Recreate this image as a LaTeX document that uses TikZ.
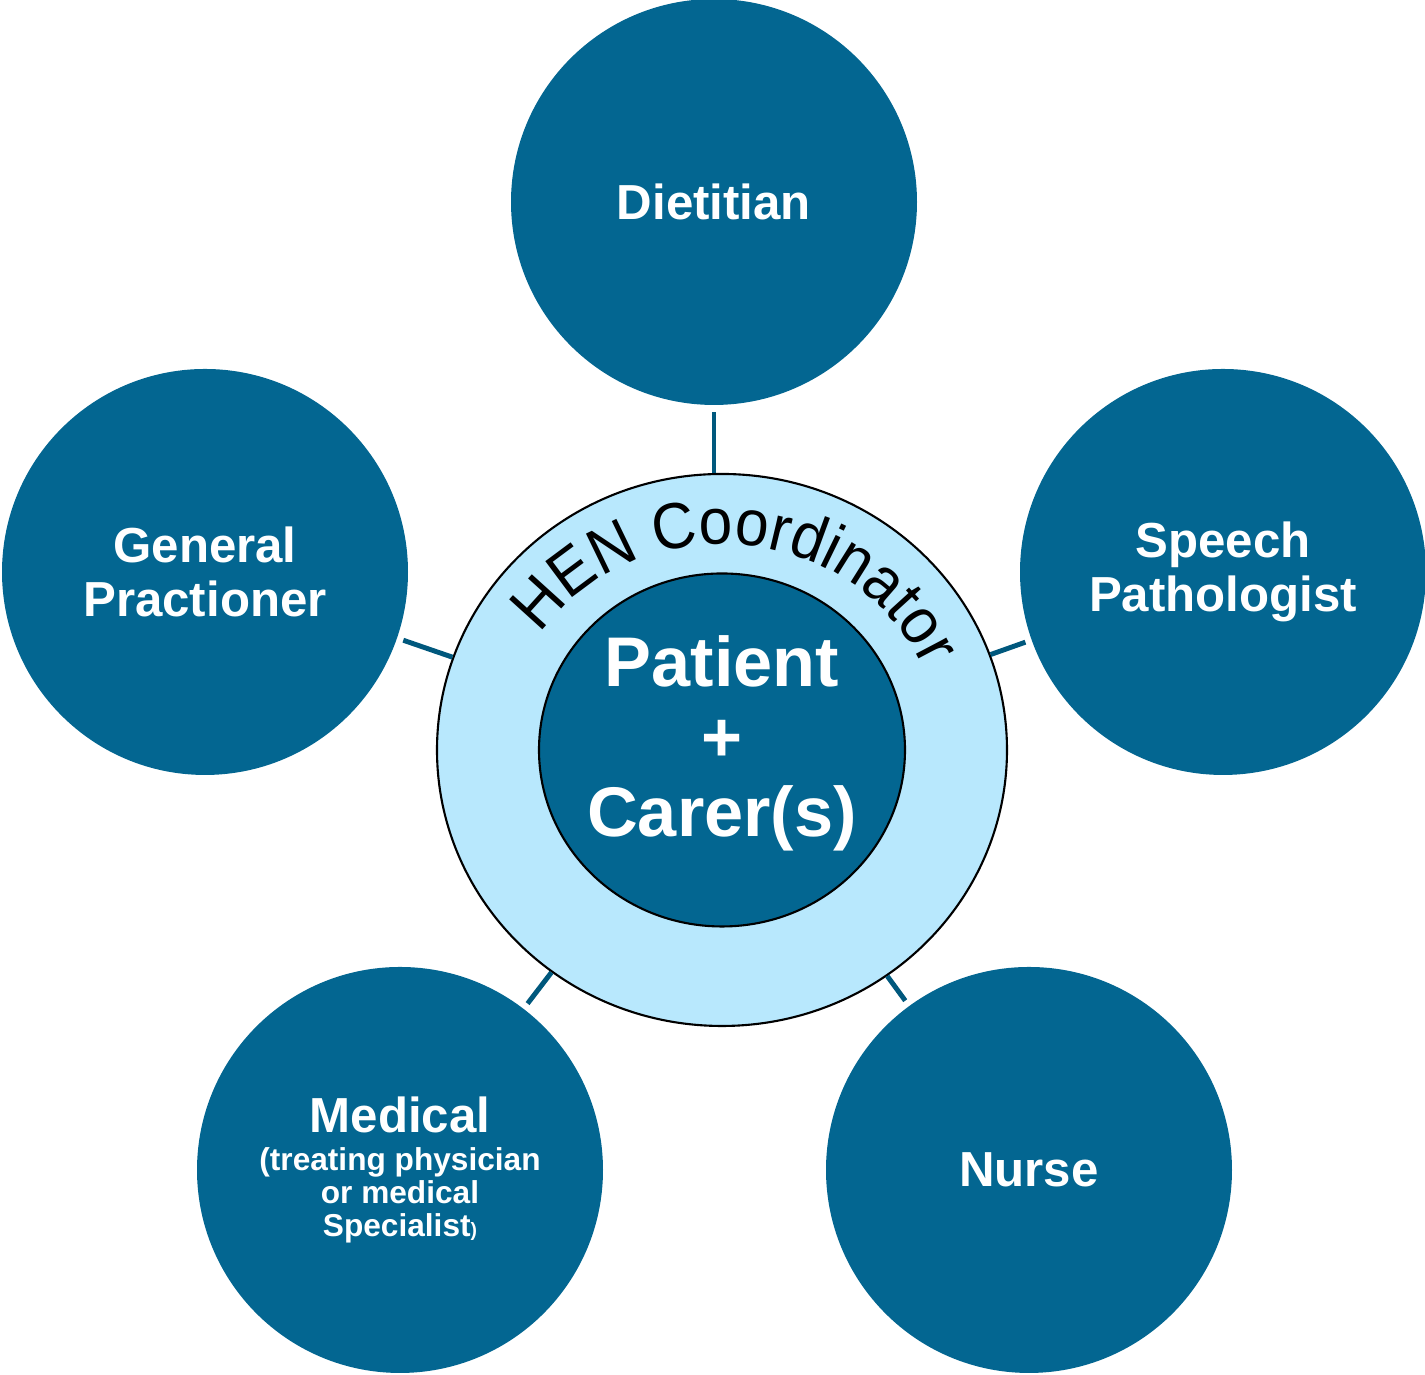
\documentclass[tikz,border=0pt]{standalone}
\usepackage{fontspec}
\setmainfont{Liberation Sans}
\newfontfamily\arcfont[FakeStretch=0.93]{Liberation Sans}
\usetikzlibrary{shapes.geometric,decorations.text}

\definecolor{teamblue}{RGB}{3,102,145}
\definecolor{ringblue}{RGB}{184,232,253}
\definecolor{linkblue}{RGB}{0,88,125}

\begin{document}
\begin{tikzpicture}[
    member/.style={circle, fill=teamblue, minimum size=4.06cm, inner sep=0pt, align=center,
        text=white, font=\bfseries\fontsize{14}{15.2}\selectfont},
    link/.style={draw=linkblue, line width=1.4pt, shorten >=0.06cm}]
    \useasboundingbox (0,0) rectangle (14.25,13.75);

    % care team around the patient
    \node[member] (diet) at (7.14,11.73) {Dietitian};
    \node[member] (speech) at (12.23,8.03) {Speech\\Pathologist};
    \node[member] (gp) at (2.05,8.03) {General\\Practioner};
    \node[member, font=\bfseries\fontsize{9}{9.4}\selectfont] (medical) at (4.00,2.05)
        {{\fontsize{14}{15}\selectfont Medical}\\[1.2pt] (treating physician\\or medical\\
        Specialist{\fontsize{5.5}{6}\selectfont)}};
    \node[member] (nurse) at (10.29,2.05) {Nurse};

    % coordinator ring and patient
    \node[ellipse, draw, line width=0.6pt, fill=ringblue, minimum width=5.70cm, minimum height=5.52cm] (hub) at (7.22,6.25) {};
    \node[ellipse, draw, line width=0.6pt, fill=teamblue, minimum width=3.66cm, minimum height=3.53cm] (core) at (hub) {};
    \node[align=center, text=white, font=\bfseries\fontsize{20}{21.3}\selectfont] (patient) at (7.22,6.32) {Patient\\+\\Carer(s)};
    \path[decorate, decoration={text along path, text align=center,
        text={|\arcfont\fontsize{18.5}{19}\selectfont|HEN Coordinator}}]
        ([shift={(167:2.2 and 2.06)}]hub.center) arc[start angle=167, end angle=2, x radius=2.2, y radius=2.06];

    \draw[link] (hub.north -| diet) -- (diet);
    \draw[link] (hub) -- (speech);
    \draw[link] (hub) -- (gp);
    \draw[link] (hub) -- (medical);
    \draw[link] (hub) -- (nurse);
\end{tikzpicture}
\end{document}
